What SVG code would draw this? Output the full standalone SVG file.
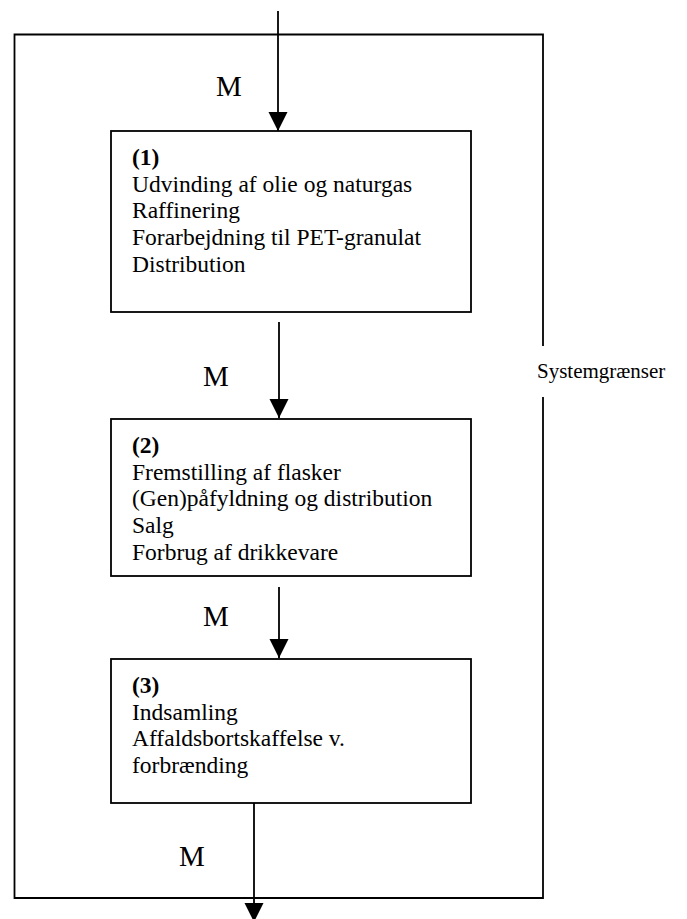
<svg xmlns="http://www.w3.org/2000/svg" width="687" height="919" viewBox="0 0 687 919">
  <style>
    .box { fill: #ffffff; stroke: #000000; stroke-width: 1.8; }
    .line { fill: none; stroke: #000000; stroke-width: 1.8; }
    .txt { font-family: "Liberation Serif", "Times New Roman", serif; font-size: 23.5px; fill: #000000; }
    .num { font-weight: bold; }
    .lbl { font-family: "Liberation Serif", "Times New Roman", serif; font-size: 21px; fill: #000000; }
    .m { font-family: "Liberation Serif", "Times New Roman", serif; font-size: 29px; fill: #000000; }
  </style>
  <defs>
    <marker id="arrow" markerUnits="userSpaceOnUse" markerWidth="20" markerHeight="21" refX="19" refY="10" orient="auto">
      <polygon points="0,0.5 19,10 0,19.5" fill="#000000"/>
    </marker>
  </defs>
  <rect width="687" height="919" fill="#ffffff"/>

  <!-- system boundary with an opening for its label -->
  <g id="system-boundary">
    <path class="line" d="M543,346 V34.5 H14.5 V898 H543 V397"/>
    <text class="lbl" x="537" y="378">Systemgrænser</text>
  </g>

  <g id="connectors">
    <line class="line" x1="278" y1="11" x2="278" y2="131" marker-end="url(#arrow)"/>
    <line class="line" x1="279" y1="322" x2="279" y2="418" marker-end="url(#arrow)"/>
    <line class="line" x1="279" y1="587" x2="279" y2="658" marker-end="url(#arrow)"/>
    <line class="line" x1="254" y1="803" x2="254" y2="922" marker-end="url(#arrow)"/>
    <text class="m" x="216" y="96">M</text>
    <text class="m" x="203" y="386">M</text>
    <text class="m" x="203" y="626">M</text>
    <text class="m" x="179" y="866">M</text>
  </g>

  <g id="node-1">
    <rect class="box" x="111" y="131" width="360" height="181"/>
    <text class="txt num" x="132" y="165">(1)</text>
    <text class="txt" x="132" y="191.7">Udvinding af olie og naturgas</text>
    <text class="txt" x="132" y="218.4">Raffinering</text>
    <text class="txt" x="132" y="245">Forarbejdning til PET-granulat</text>
    <text class="txt" x="132" y="271.8">Distribution</text>
  </g>

  <g id="node-2">
    <rect class="box" x="111" y="419" width="360" height="157"/>
    <text class="txt num" x="132" y="453">(2)</text>
    <text class="txt" x="132" y="479.7">Fremstilling af flasker</text>
    <text class="txt" x="132" y="506.4">(Gen)påfyldning og distribution</text>
    <text class="txt" x="132" y="533">Salg</text>
    <text class="txt" x="132" y="559.8">Forbrug af drikkevare</text>
  </g>

  <g id="node-3">
    <rect class="box" x="111" y="659" width="360" height="144"/>
    <text class="txt num" x="132" y="693">(3)</text>
    <text class="txt" x="132" y="719.7">Indsamling</text>
    <text class="txt" x="132" y="746.4">Affaldsbortskaffelse v.</text>
    <text class="txt" x="132" y="773">forbrænding</text>
  </g>
</svg>
